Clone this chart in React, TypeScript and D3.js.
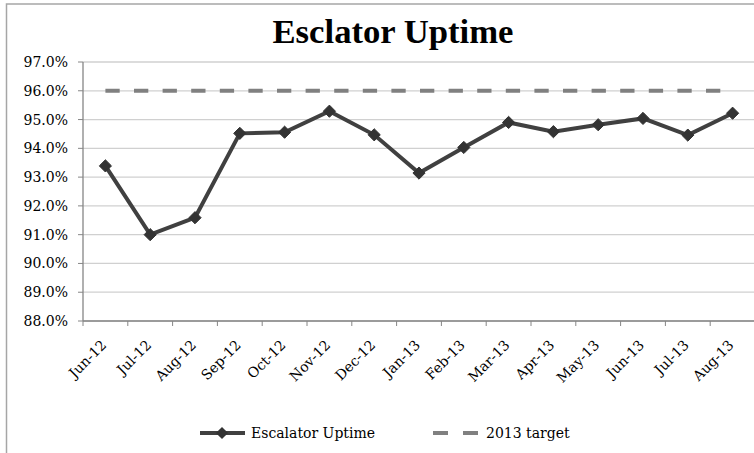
import React from "react";
import * as d3 from "d3";

const months = ["Jun-12","Jul-12","Aug-12","Sep-12","Oct-12","Nov-12","Dec-12","Jan-13","Feb-13","Mar-13","Apr-13","May-13","Jun-13","Jul-13","Aug-13"];
const uptime = [93.39,91.0,91.59,94.52,94.56,95.29,94.47,93.14,94.03,94.9,94.58,94.82,95.04,94.46,95.22];
const target = [96,96,96,96,96,96,96,96,96,96,96,96,96,96,96];
const yTicks = [88,89,90,91,92,93,94,95,96,97];
const title = "Esclator Uptime";
const seriesNames = ["Escalator Uptime", "2013 target"];

const W = 754, H = 453;
const FONT = "'DejaVu Serif', serif";

export default function App() {
  const x = d3.scaleBand<string>().domain(months).range([83, 755]);
  const y = d3.scaleLinear().domain([88, 97]).range([321, 62]);
  const cx = (m: string) => (x(m) as number) + x.bandwidth() / 2;

  const line = d3.line<number>().x((_, i) => cx(months[i])).y(d => y(d));
  const diamond = d3.symbol().type(d3.symbolDiamond2).size(95);

  const boundaries = months.map(m => x(m) as number).concat([x.range()[1]]);

  return (
    <svg width={W} height={H} style={{ position: "absolute", left: 0, top: 0, background: "#fff" }} fontFamily={FONT}>
      <rect x={0} y={0} width={W} height={H} fill="#fff" />
      <rect x={6.5} y={4} width={820} height={520} fill="none" stroke="#a6a6a6" strokeWidth={1.5} />
      <text x={393} y={43} textAnchor="middle" fontSize={33} fontWeight="bold" fontFamily="'Liberation Serif', serif" textLength={241} lengthAdjust="spacingAndGlyphs" fill="#000">{title}</text>

      {yTicks.map(t => (
        <g key={t}>
          <line x1={83} x2={W} y1={y(t)} y2={y(t)} stroke="#d0d0d0" strokeWidth={1.3} />
          <line x1={78} x2={83} y1={y(t)} y2={y(t)} stroke="#868686" strokeWidth={1} />
          <text x={68} y={y(t)} dy="0.36em" textAnchor="end" fontSize={14} fill="#000">{t.toFixed(1) + "%"}</text>
        </g>
      ))}
      <line x1={83} x2={83} y1={y(97)} y2={y(88)} stroke="#868686" strokeWidth={1.3} />
      <line x1={83} x2={W} y1={y(88)} y2={y(88)} stroke="#868686" strokeWidth={1.3} />
      {boundaries.map((b, i) => (
        <line key={i} x1={b} x2={b} y1={y(88)} y2={y(88) + 5} stroke="#868686" strokeWidth={1} />
      ))}
      {months.map(m => (
        <text key={m} transform={`translate(${cx(m) + 2},${346}) rotate(-45)`} textAnchor="end" fontSize={14} fill="#000">{m}</text>
      ))}

      <path d={line(target) as string} fill="none" stroke="#808080" strokeWidth={4} strokeDasharray="14.3 14.3" />
      <path d={line(uptime) as string} fill="none" stroke="#404040" strokeWidth={4} />
      {uptime.map((v, i) => (
        <path key={i} d={diamond() as string} transform={`translate(${cx(months[i])},${y(v)})`} fill="#333" stroke="#333" strokeWidth={1} />
      ))}

      <g>
        <line x1={200} x2={245} y1={433} y2={433} stroke="#404040" strokeWidth={4} />
        <path d={diamond() as string} transform="translate(222,433)" fill="#333" />
        <text x={251} y={433} dy="0.36em" fontSize={14} fill="#000">{seriesNames[0]}</text>
        <line x1={433} x2={478} y1={433} y2={433} stroke="#808080" strokeWidth={4} strokeDasharray="15 15" />
        <text x={486} y={433} dy="0.36em" fontSize={14} fill="#000">{seriesNames[1]}</text>
      </g>
    </svg>
  );
}
